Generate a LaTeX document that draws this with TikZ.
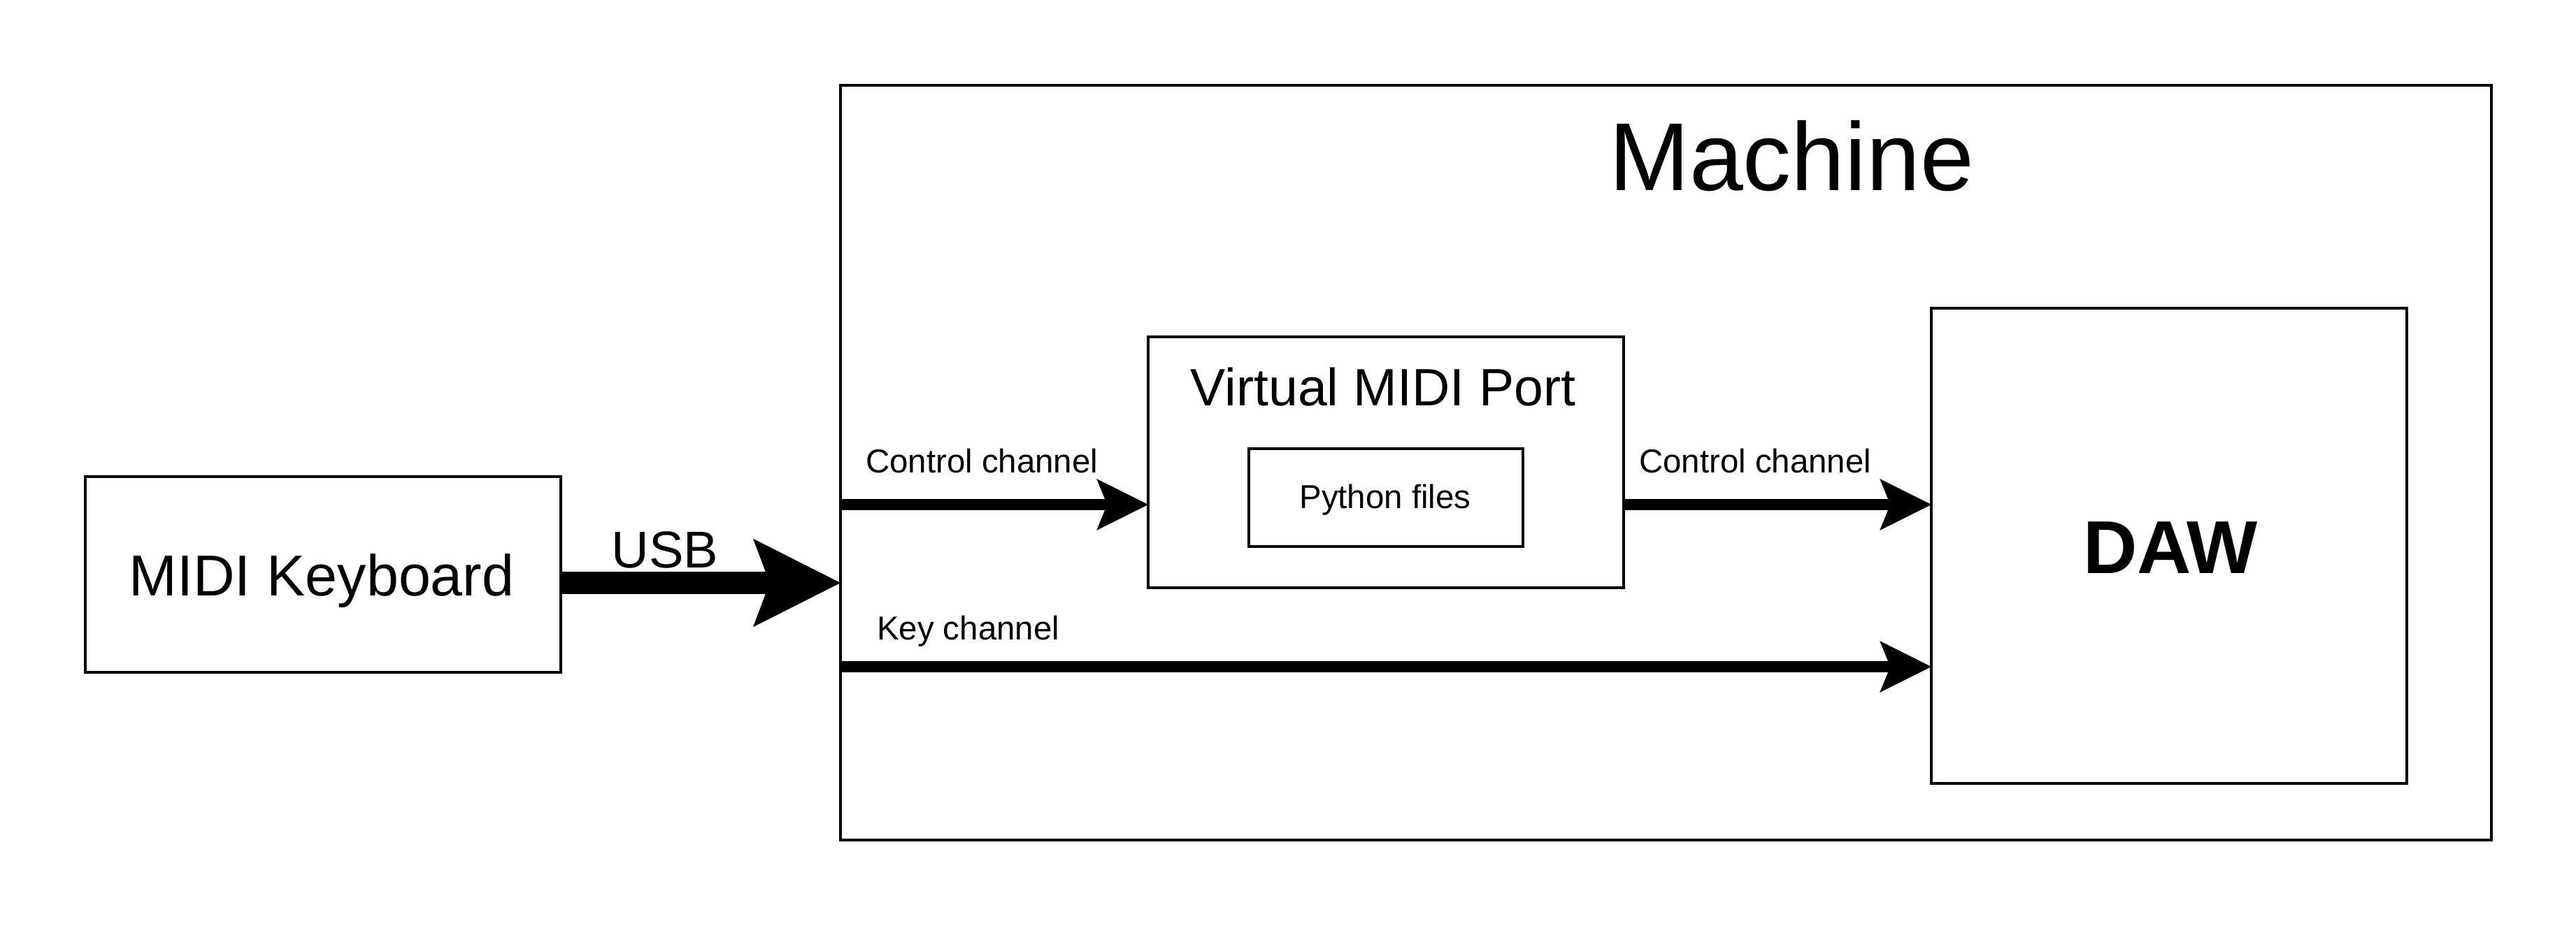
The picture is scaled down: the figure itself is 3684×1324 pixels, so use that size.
\documentclass[tikz,border=0pt]{standalone}
\usepackage{fontspec}
\setmainfont{Liberation Sans}
\usetikzlibrary{arrows.meta}

\tikzset{
  box/.style={draw, line width=1.15pt, inner sep=0pt, outer sep=0pt},
  lbl/.style={inner sep=0pt, outer sep=0pt, anchor=base},
  small/.style={lbl, anchor=base west, font=\fontsize{13.5}{16}\selectfont},
  chan/.style={line width=4.3pt, -{Stealth[length=21pt, width=21pt, inset=4.3pt, line width=0pt]}},
  usb/.style={line width=9.1pt, -{Stealth[length=35.6pt, width=36pt, inset=6.8pt, line width=0pt]}}
}

\begin{document}
\begin{tikzpicture}[x=0.1mm, y=-0.1mm]
  \useasboundingbox (0,0) rectangle (3684,1324);
  \node[box, minimum width=236.1mm, minimum height=108mm] (machine) at (2382.5,662) {};
  \node[box, minimum width=68mm, minimum height=28mm] (kbd) at (462,822) {};
  \node[box, minimum width=68mm, minimum height=35.9mm] (vmp) at (1982,661.5) {};
  \node[box, minimum width=39.2mm, minimum height=14mm] (py) at (1982,712) {};
  \node[box, minimum width=68mm, minimum height=68mm] (daw) at (3102,781) {};

  \node[lbl, font=\fontsize{39.3}{44}\selectfont] (machinelbl) at (2562,272) {Machine};
  \node[lbl, font=\fontsize{23.5}{28}\selectfont] (kbdlbl) at (460,852) {MIDI Keyboard};
  \node[lbl, font=\fontsize{21.4}{26}\selectfont] (vmplbl) at (1978,580) {Virtual MIDI Port};
  \node[lbl, font=\fontsize{13.5}{16}\selectfont] (pylbl) at (1981,727) {Python files};
  \node[lbl, font=\fontsize{30.5}{36}\selectfont\bfseries] (dawlbl) at (3104,820) {DAW};
  \node[lbl, font=\fontsize{21.1}{26}\selectfont] (usblbl) at (951,812) {USB};
  \node[small] (ctlinlbl) at (1238,676) {Control channel};
  \node[small] (ctloutlbl) at (2344,676) {Control channel};
  \node[small] (keylbl) at (1254,915) {Key channel};

  \coordinate (usbrow) at (0,834);
  \coordinate (ctlrow) at (0,722);
  \coordinate (keyrow) at (0,954);

  \draw[usb] (kbd.east |- usbrow) -- (machine.west |- usbrow);
  \begin{scope}[chan]
    \draw (machine.west |- ctlrow) -- (vmp.west |- ctlrow);
    \draw (vmp.east |- ctlrow) -- (daw.west |- ctlrow);
    \draw (machine.west |- keyrow) -- (daw.west |- keyrow);
  \end{scope}
\end{tikzpicture}
\end{document}
